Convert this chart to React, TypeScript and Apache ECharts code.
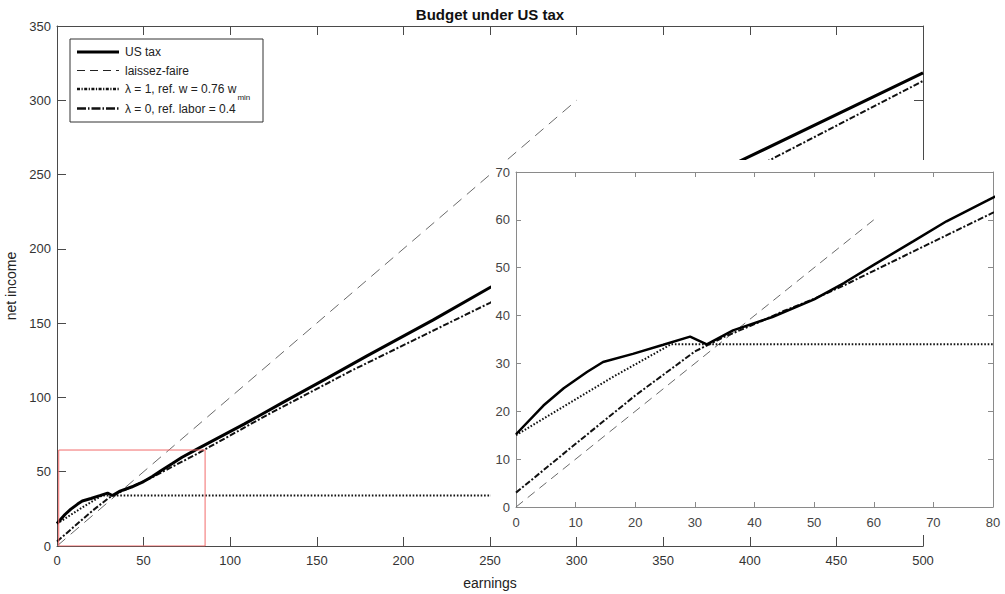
import React, { useEffect, useRef } from "react";
import * as echarts from "echarts";

// ---- data ----
const usTaxX = [0, 4.6, 8, 11.9, 14.6, 19.6, 24.7, 29.2, 32, 36.4, 43, 50, 55, 60, 66.6, 72.2, 79, 83, 108, 131, 156, 179, 217, 250, 300, 396, 500];
const usTaxY = [15.2, 21.2, 24.8, 28.2, 30.3, 32, 33.9, 35.6, 34, 36.9, 39.7, 43.4, 46.8, 50.6, 55.5, 59.7, 64, 66.6, 82, 97, 113, 128, 152, 174, 204, 260, 318.5];

const laissezMainX = [0, 300];
const laissezMainY = [0, 300];
const laissezInsetX = [0, 60];
const laissezInsetY = [0, 60];

const lambda1X = [0, 8, 16, 26, 500];
const lambda1Y = [15, 21, 27, 34, 34];

const lambda0X = [0, 10, 20, 30, 35, 40, 45, 50, 55, 65, 80, 121, 170, 250, 412, 500];
const lambda0Y = [3, 13.2, 23.3, 32.5, 35.6, 38.2, 41, 43.5, 46.3, 52.4, 61.5, 88, 118, 163.7, 260, 313];

const zoomBoxX = [1, 85.5, 85.5, 1, 1];
const zoomBoxY = [0, 0, 64.6, 64.6, 0];

const mainXRange = [0, 500];
const mainYRange = [0, 350];
const mainStep = 50;
const insetXRange = [0, 80];
const insetYRange = [0, 70];
const insetStep = 10;

const legendLabels = ["US tax", "laissez-faire", "\u03bb = 1, ref. w = 0.76 w", "\u03bb = 0, ref. labor = 0.4"];
const legendSub = "min";

const FONT = '"Liberation Sans", Arial, Helvetica, sans-serif';

const pairs = (xs: number[], ys: number[]) => xs.map((x, i) => [x, ys[i]]);

function measure(text: string, size: number): number {
  const c = document.createElement("canvas").getContext("2d");
  if (!c) return text.length * size * 0.5;
  c.font = `${size}px ${FONT}`;
  return c.measureText(text).width;
}

export default function App() {
  const ref = useRef<HTMLDivElement>(null);
  useEffect(() => {
    if (!ref.current) return;
    const chart = echarts.init(ref.current, undefined, { renderer: "svg" });

    const mainAxisColor = "#4a4a4a";
    const insetAxisColor = "#8a8a8a";

    const lineStyles = {
      us: (w: number) => ({ color: "#000", width: w, type: "solid" as const }),
      lf: (d: number[]) => ({ color: "#6a6a6a", width: 1, type: d }),
      l1: { color: "#111", width: 2, type: [1.6, 1.8], cap: "butt" as const },
      l0: { color: "#111", width: 2, type: [6, 2, 2, 2], cap: "butt" as const },
    };

    const mkX = (grid: number, range: number[], step: number, pos: "bottom" | "top", color: string, tick: number, labelColor: string, z: number, showLabel: boolean, name?: string, fontSize = 13, margin = 8) => ({
      type: "value",
      gridIndex: grid,
      position: pos,
      min: range[0],
      max: range[1],
      interval: step,
      z,
      name,
      nameLocation: "middle",
      nameGap: 30,
      nameTextStyle: { fontSize: 14, color: "#222", fontFamily: FONT },
      axisLine: { show: true, onZero: false, lineStyle: { color, width: 1 } },
      axisTick: { show: true, inside: true, length: tick, lineStyle: { color, width: 1 } },
      axisLabel: { show: showLabel, color: labelColor, fontSize, fontFamily: FONT, margin },
      splitLine: { show: false },
    });
    const mkY = (grid: number, range: number[], step: number, pos: "left" | "right", color: string, tick: number, labelColor: string, z: number, showLabel: boolean, name?: string, fontSize = 13, margin = 6) => ({
      type: "value",
      gridIndex: grid,
      position: pos,
      min: range[0],
      max: range[1],
      interval: step,
      z,
      name,
      nameLocation: "middle",
      nameGap: 35,
      nameTextStyle: { fontSize: 14, color: "#222", fontFamily: FONT },
      axisLine: { show: true, onZero: false, lineStyle: { color, width: 1 } },
      axisTick: { show: true, inside: true, length: tick, lineStyle: { color, width: 1 } },
      axisLabel: { show: showLabel, color: labelColor, fontSize, fontFamily: FONT, margin },
      splitLine: { show: false },
    });

    const base = { type: "line", symbol: "none", showSymbol: false, silent: true };
    const mainS = (data: number[][], lineStyle: any) => ({ ...base, xAxisIndex: 0, yAxisIndex: 0, data, lineStyle, z: 2 });
    const insetS = (data: number[][], lineStyle: any) => ({ ...base, xAxisIndex: 2, yAxisIndex: 2, data, lineStyle, z: 100 });

    // legend graphics
    const lgX = 70, lgY = 39, lgW = 193, lgH = 83;
    const rowsY = [52, 70.5, 89, 108.5];
    const lineX1 = 77, lineX2 = 119, textX = 125;
    const legendStyles = [
      { stroke: "#000", lineWidth: 3 },
      { stroke: "#222", lineWidth: 1, lineDash: [8, 5] },
      { stroke: "#111", lineWidth: 2.5, lineDash: [3, 1.5, 1.2, 1.5] },
      { stroke: "#111", lineWidth: 2.5, lineDash: [9, 2, 1.5, 2] },
    ];
    const legendFont = 12;
    const subX = textX + measure(legendLabels[2], legendFont) + 1;

    const graphics: any[] = [
      { type: "rect", z: 50, silent: true, shape: { x: 491, y: 160, width: 514, height: 375 }, style: { fill: "#fff" } },
      { type: "text", z: 60, x: 490, y: 14, style: { text: "Budget under US tax", fontSize: 15, fontWeight: "bold", fontFamily: FONT, fill: "#111", align: "center", verticalAlign: "middle" } },
      { type: "rect", z: 200, shape: { x: lgX, y: lgY, width: lgW, height: lgH }, style: { fill: "#fff", stroke: "#333", lineWidth: 1 } },
    ];
    legendLabels.forEach((lab, i) => {
      graphics.push({ type: "line", z: 201, shape: { x1: lineX1, y1: rowsY[i], x2: lineX2, y2: rowsY[i] }, style: { ...legendStyles[i], lineCap: "butt" } });
      graphics.push({ type: "text", z: 201, x: textX, y: rowsY[i], style: { text: lab, fontSize: legendFont, fontFamily: FONT, fill: "#222", verticalAlign: "middle" } });
    });
    graphics.push({ type: "text", z: 201, x: subX, y: rowsY[2] + 8, style: { text: legendSub, fontSize: 8, fontFamily: FONT, fill: "#222", verticalAlign: "middle" } });

    const option: any = {
      animation: false,
      backgroundColor: "#fff",
      grid: [
        { left: 57, top: 26, width: 866, height: 520, show: false, containLabel: false, outerBoundsMode: "none" },
        { left: 516, top: 172, width: 477, height: 335, show: false, z: 100, containLabel: false, outerBoundsMode: "none" },
      ],
      xAxis: [
        mkX(0, mainXRange, mainStep, "bottom", mainAxisColor, 9, "#333", 0, true, "earnings", 13, 8),
        mkX(0, mainXRange, mainStep, "top", mainAxisColor, 9, "#333", 0, false),
        mkX(1, insetXRange, insetStep, "bottom", insetAxisColor, 5, "#444", 100, true, undefined, 13, 9),
        mkX(1, insetXRange, insetStep, "top", insetAxisColor, 5, "#444", 100, false),
      ],
      yAxis: [
        mkY(0, mainYRange, mainStep, "left", mainAxisColor, 9, "#333", 0, true, "net income", 13, 6),
        mkY(0, mainYRange, mainStep, "right", mainAxisColor, 9, "#333", 0, false),
        mkY(1, insetYRange, insetStep, "left", insetAxisColor, 5, "#444", 100, true, undefined, 13, 6),
        mkY(1, insetYRange, insetStep, "right", insetAxisColor, 5, "#444", 100, false),
      ],
      series: [
        mainS(pairs(laissezMainX, laissezMainY), lineStyles.lf([11, 7])),
        mainS(pairs(lambda1X, lambda1Y), lineStyles.l1),
        mainS(pairs(lambda0X, lambda0Y), lineStyles.l0),
        mainS(pairs(usTaxX, usTaxY), lineStyles.us(3)),
        mainS(pairs(zoomBoxX, zoomBoxY), { color: "#f26b6b", width: 1, type: "solid" }),
        insetS(pairs(laissezInsetX, laissezInsetY), lineStyles.lf([9, 6])),
        insetS(pairs(lambda1X, lambda1Y), lineStyles.l1),
        insetS(pairs(lambda0X, lambda0Y), lineStyles.l0),
        insetS(pairs(usTaxX, usTaxY), lineStyles.us(2.5)),
      ],
      graphic: { elements: graphics },
    };
    chart.setOption(option);
    return () => chart.dispose();
  }, []);

  return <div ref={ref} style={{ position: "absolute", left: 0, top: 0, width: 1005, height: 594 }} />;
}
